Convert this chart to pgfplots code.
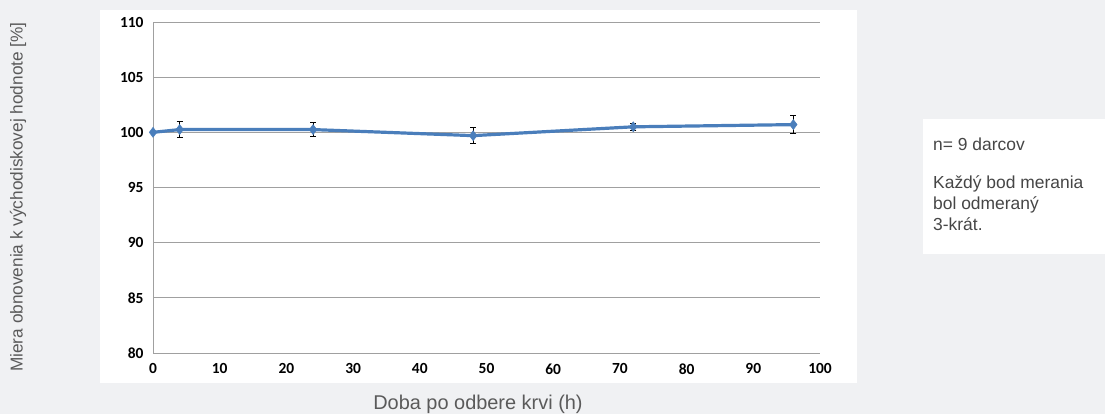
\documentclass[border=0pt]{standalone}
\usepackage{fontspec}
\setmainfont{Liberation Sans}
\newfontfamily\calibri{Carlito}
\usepackage{pgfplots}
\pgfplotsset{compat=1.18}
\usepackage{pgfplotstable}

\definecolor{panel}{RGB}{240,241,243}
\definecolor{gridc}{RGB}{160,160,160}
\definecolor{serie}{RGB}{74,126,187}
\definecolor{labelc}{RGB}{90,90,90}
\definecolor{notec}{RGB}{70,70,70}

% cas [h], miera obnovenia [%], chyba
\pgfplotstableread{
x y e
0 100 0
4 100.25 0.75
24 100.25 0.65
48 99.7 0.7
72 100.5 0.35
96 100.7 0.8
}\obnova

\begin{document}
\begin{tikzpicture}[x=1bp,y=1bp]
\useasboundingbox (0,0) rectangle (1105,414);
\fill[panel] (0,0) rectangle (1105,414);
\fill[white] (100,31) rectangle (857,404);
\fill[white] (923,160) rectangle (1105,295);

\begin{axis}[
  at={(153bp,61bp)}, anchor=south west,
  scale only axis, width=667bp, height=331bp,
  xmin=0, xmax=100, ymin=80, ymax=110,
  xtick={0,10,...,100}, ytick={80,85,...,110},
  axis x line*=bottom, axis y line*=left,
  x axis line style={draw=none},
  y axis line style={gridc, line width=0.8bp},
  major tick length=0pt,
  ymajorgrids, grid style={gridc, line width=0.8bp},
  tick label style={font=\calibri\bfseries\fontsize{15.5}{17}\selectfont, text=black},
  /pgf/number format/assume math mode=true,
  xticklabel style={yshift=-7bp},
  yticklabel style={xshift=-6bp},
  clip=false,
]
\addplot[serie, line width=3.2bp, mark=diamond*, mark size=5bp,
  mark options={fill=serie, draw=serie, line width=0.5bp},
  error bars/.cd, y dir=both, y explicit,
  error bar style={black, line width=0.9bp},
  error mark options={black, line width=0.9bp, mark size=3bp, rotate=90}]
  table[x=x, y=y, y error=e] {\obnova};
\end{axis}

\node[labelc, rotate=90, font=\fontsize{17.3}{20}\selectfont] at (18,217)
  {Miera obnovenia k východiskovej hodnote [\%]};
\node[labelc, font=\fontsize{20}{24}\selectfont] at (478,10)
  {Doba po odbere krvi (h)};
\node[notec, anchor=north west, align=left, font=\fontsize{17.5}{21}\selectfont,
  inner sep=0pt] at (933,276)
  {n= 9 darcov\\[17bp]Každý bod merania\\bol odmeraný\\3-krát.};
\end{tikzpicture}
\end{document}
